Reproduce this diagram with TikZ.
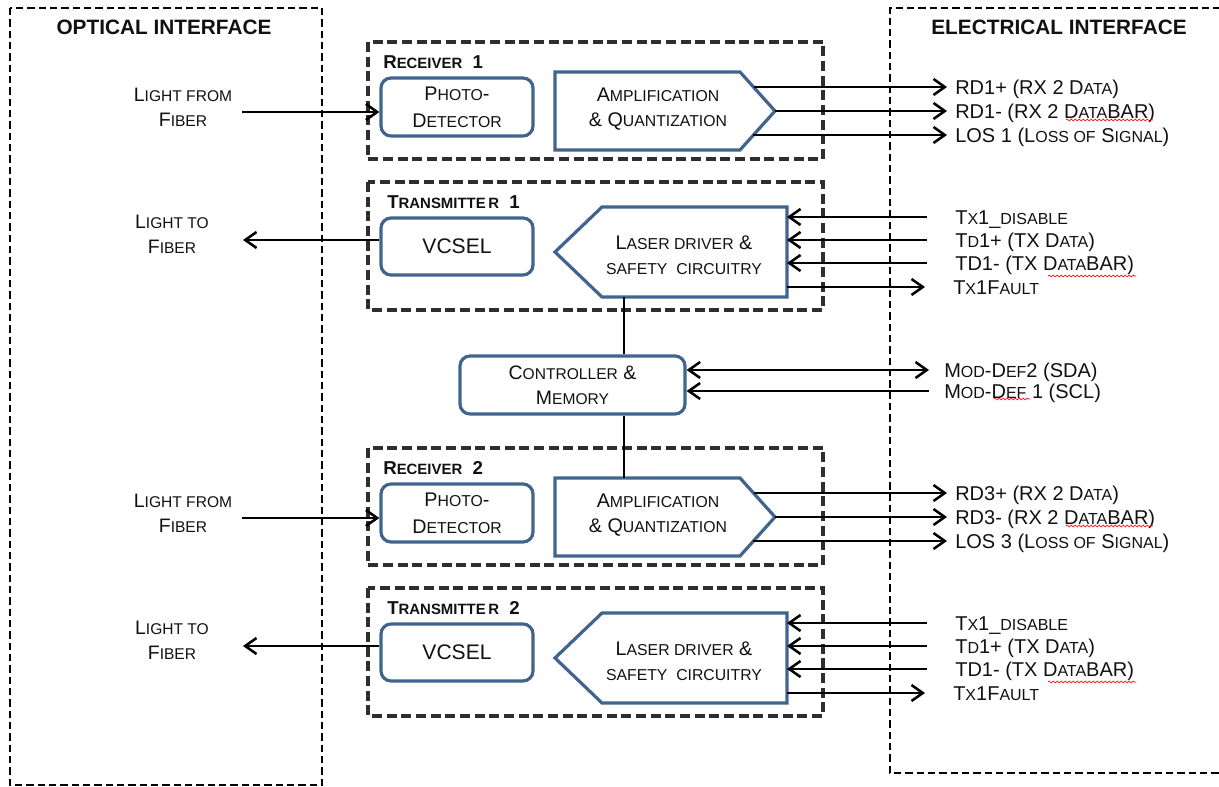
\documentclass[tikz,border=0pt]{standalone}
\usepackage{fontspec}
\setmainfont{Liberation Sans}
\usetikzlibrary{arrows.meta,decorations.pathmorphing}
\makeatletter
\newdimen\smcdim
\newcommand{\smc}[1]{{\smcdim=\f@size pt\relax\smcdim=0.8\smcdim\fontsize{\the\smcdim}{\the\smcdim}\selectfont\MakeUppercase{#1}}}
\makeatother
\definecolor{boxblue}{HTML}{41648F}
\definecolor{grpgray}{HTML}{2E2E2E}
\definecolor{ink}{HTML}{111111}
\tikzset{
  bluebox/.style={draw=boxblue, line width=2.4pt, rounded corners=7.5pt, fill=white, align=center, inner sep=0pt, text=ink, font=\fontsize{14.8}{20}\selectfont},
  blueshape/.style={draw=boxblue, line width=2.4pt, line join=miter, fill=white},
  grpbox/.style={draw=grpgray, line width=3pt, dash pattern=on 7.5pt off 3.5pt},
  ifbox/.style={draw=black, line width=1.6pt, dash pattern=on 5.5pt off 3pt},
  conn/.style={line width=1.9pt, draw=black},
  txt/.style={align=center, inner sep=0pt, text=ink, font=\fontsize{14.8}{19}\selectfont},
  grplbl/.style={anchor=west, inner sep=0pt, text=ink, font=\fontsize{14}{16}\selectfont\bfseries},
  titlelbl/.style={inner sep=0pt, text=ink, font=\fontsize{15.6}{18}\selectfont\bfseries},
  llbl/.style={align=center, inner sep=0pt, text=ink, font=\fontsize{14.6}{19}\selectfont},
  rlbl/.style={anchor=west, inner xsep=6pt, inner ysep=0pt, text height=10.6pt, text depth=0pt, text=ink, font=\fontsize{15}{17}\selectfont},
  tlbl/.style={rlbl, inner xsep=21pt},
  mlbl/.style={rlbl, inner xsep=11.25pt},
  spell/.style={draw=red, line width=0.5pt, decorate, decoration={snake, amplitude=0.7pt, segment length=3pt}},
  vcfont/.style={font=\fontsize{15.8}{18}\selectfont}
}
\begin{document}
\begin{tikzpicture}[x=0.75pt,y=-0.75pt, >={Straight Barb[length=8.5pt,width=12pt]}]
\fill[white] (0,0) rectangle (1219,787);
\useasboundingbox (0,0) rectangle (1219,787);

% interfaces
\draw[ifbox] (10,8) rectangle (322,785);
\draw[ifbox] (1230,773) -- (890,773) -- (890,8) -- (1230,8);
\node[titlelbl] (optt) at (164,27) {OPTICAL INTERFACE};
\node[titlelbl] (elet) at (1059,27) {ELECTRICAL INTERFACE};

% receivers
\foreach \o/\n/\k in {0/1/1, 406/2/3}{
  \draw[grpbox] (368,42+\o) rectangle (823,159+\o);
  \node[grplbl] (rxl\n) at (383,62+\o) {R\smc{eceiver}\ \ \n};
  \node[bluebox, minimum width=114pt, minimum height=43.5pt] (pd\n) at (457,107+\o) {P\smc{hoto}-\\D\smc{etector}};
  \draw[blueshape] (555,72+\o) -- (740,72+\o) -- (775,111+\o) -- (740,150+\o) -- (555,150+\o) -- cycle;
  \node[txt] (amp\n) at (658,109+\o) {A\smc{mplification}\\\& Q\smc{uantization}};
  \coordinate (aoA\n) at (754,87+\o);
  \coordinate (aoB\n) at (775,111+\o);
  \coordinate (aoC\n) at (753,135+\o);
  \node[rlbl] (rdp\n) at (947,87+\o) {RD\k+ (RX 2 D\smc{ata})};
  \node[rlbl] (rdm\n) at (947,111+\o) {RD\k- (RX 2 D\smc{ata}BAR)};
  \node[rlbl] (los\n) at (947,135+\o) {LOS \k\ (L\smc{oss of} S\smc{ignal})};
  \draw[conn,->] (aoA\n) -- (rdp\n.west);
  \draw[conn,->] (aoB\n) -- (rdm\n.west);
  \draw[conn,->] (aoC\n) -- (los\n.west);
  \node[llbl] (lff\n) at (183,107.5+\o) {L\smc{ight from}\\F\smc{iber}};
  \coordinate (lffs\n) at (242,112+\o);
  \draw[conn,->] (lffs\n) -- (pd\n.west |- lffs\n);
  \draw[spell] (1066,120+\o) -- (1153,120+\o);
}

% transmitters
\foreach \o/\n in {0/1, 406/2}{
  \draw[grpbox] (368,182+\o) rectangle (823,310+\o);
  \node[grplbl] (txl\n) at (387,202+\o) {T\smc{ransmitte\,r}\ \ \n};
  \node[bluebox, minimum width=114pt, minimum height=42.75pt, vcfont] (vc\n) at (457,246.5+\o) {VCSEL};
  \draw[blueshape] (602,207+\o) -- (787,207+\o) -- (787,297+\o) -- (602,297+\o) -- (555,252+\o) -- cycle;
  \node[txt] (ld\n) at (684,255+\o) {L\smc{aser driver} \&\\\smc{safety\ \ circuitry}};
  \coordinate (liA\n) at (787,217+\o);
  \coordinate (liB\n) at (787,240+\o);
  \coordinate (liC\n) at (787,263+\o);
  \coordinate (loD\n) at (787,287+\o);
  \node[tlbl] (tdis\n) at (927,217+\o) {T\smc{x}1\_\smc{disable}};
  \node[tlbl] (tdp\n) at (927,240+\o) {T\smc{d}1+ (TX D\smc{ata})};
  \node[tlbl] (tdm\n) at (927,263+\o) {TD1- (TX D\smc{ata}BAR)};
  \node[tlbl] (tflt\n) at (925,287+\o) {T\smc{x}1F\smc{ault}};
  \draw[conn,<-] (liA\n) -- (tdis\n.west);
  \draw[conn,<-] (liB\n) -- (tdp\n.west);
  \draw[conn,<-] (liC\n) -- (tdm\n.west);
  \draw[conn,->] (loD\n) -- (tflt\n.west);
  \node[llbl] (ltf\n) at (172,234.5+\o) {L\smc{ight to}\\F\smc{iber}};
  \coordinate (ltfe\n) at (243,240+\o);
  \draw[conn,->] (vc\n.west |- ltfe\n) -- (ltfe\n);
  \draw[spell] (1048,276+\o) -- (1136,276+\o);
}

% controller
\node[bluebox, minimum width=168.75pt, minimum height=43.5pt, font=\fontsize{14.6}{19}\selectfont] (ctl) at (572.5,385) {C\smc{ontroller} \&\\M\smc{emory}};
\node[mlbl] (md2) at (929,370) {M\smc{od}-D\smc{ef}2 (SDA)};
\node[mlbl] (md1) at (929,391) {M\smc{od}-D\smc{ef} 1 (SCL)};
\draw[conn,<->] (ctl.east |- md2) -- (md2.west);
\draw[conn,<-] (ctl.east |- md1) -- (md1.west);
\draw[spell] (994,399) -- (1030,399);

\coordinate (ldb) at (624,297);
\coordinate (amp2t) at (624,478);
\draw[conn] (ldb) -- (ldb |- ctl.north);
\draw[conn] (ctl.south -| amp2t) -- (amp2t);
\end{tikzpicture}
\end{document}
